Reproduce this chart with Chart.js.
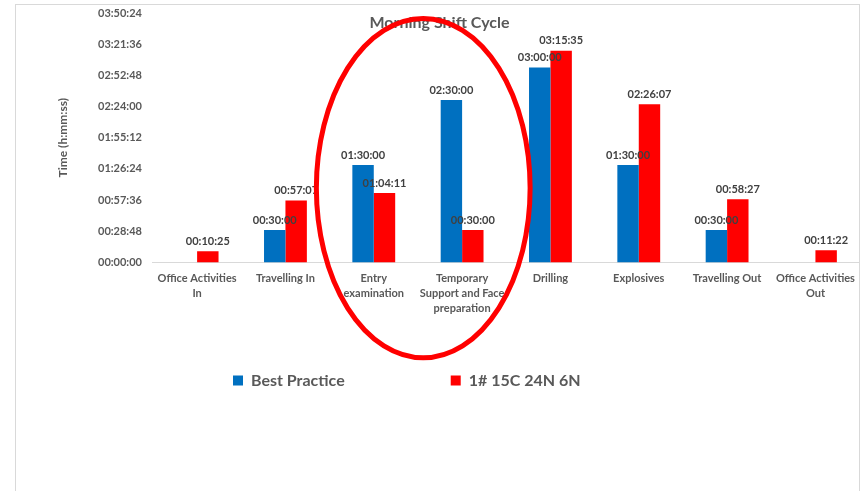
<!DOCTYPE html>
<html><head><meta charset="utf-8">
<script src="https://cdn.jsdelivr.net/npm/chart.js@4.4.1/dist/chart.umd.min.js"></script>
<style>
html,body{margin:0;padding:0;background:#fff;overflow:hidden;}
#frame{position:absolute;left:15px;top:4px;width:845px;height:530px;border:1.5px solid #d9d9d9;box-sizing:border-box;}
#wrap{position:absolute;left:0;top:0;width:864px;height:491px;}
</style></head><body>
<div id="frame"></div>
<div id="wrap"><canvas id="c" width="864" height="491"></canvas></div>
<script>
// ---- data ----
const categories = [
  ['Office Activities', 'In'],
  'Travelling In',
  ['Entry', 'examination'],
  ['Temporary', 'Support and Face', 'preparation'],
  'Drilling',
  'Explosives',
  'Travelling Out',
  ['Office Activities', 'Out']
];
const seriesNames = ['Best Practice', '1# 15C 24N 6N'];
// durations in seconds
const bestPractice = [null, 1800, 5400, 9000, 10800, 5400, 1800, null];
const shiftActual  = [625, 3427, 3851, 1800, 11735, 8767, 3507, 682];
const yMin = 0;
const yMax = 13824;   // 03:50:24
const yStep = 1728;   // 00:28:48
const highlighted = [2, 3]; // categories circled

const seriesColors = ['#0070C0', '#FF0000'];
const textGrey = '#595959';
const labelGrey = '#404040';
const FONT = 'Lato';

function fmt(sec) {
  sec = Math.round(sec);
  const h = Math.floor(sec / 3600), m = Math.floor((sec % 3600) / 60), s = sec % 60;
  const p = n => String(n).padStart(2, '0');
  return p(h) + ':' + p(m) + ':' + p(s);
}

const valueLabels = {
  id: 'valueLabels',
  afterDatasetsDraw(chart) {
    const ctx = chart.ctx;
    ctx.save();
    ctx.font = 'bold 11px ' + FONT;
    ctx.fillStyle = labelGrey;
    ctx.textAlign = 'center';
    ctx.textBaseline = 'middle';
    chart.data.datasets.forEach((ds, di) => {
      const meta = chart.getDatasetMeta(di);
      meta.data.forEach((el, i) => {
        const v = ds.data[i];
        if (v === null || v === undefined) return;
        ctx.fillText(fmt(v), el.x, el.y - 10);
      });
    });
    ctx.restore();
  }
};

const highlightEllipse = {
  id: 'highlightEllipse',
  afterDraw(chart) {
    const xs = chart.scales.x, ys = chart.scales.y;
    const a = xs.getPixelForValue(highlighted[0]);
    const b = xs.getPixelForValue(highlighted[1]);
    const step = b - a;
    const cx = (a + b) / 2 + 0.06 * step;
    const rx = 1.21 * step;
    const cy = ys.getPixelForValue(4120);
    const ry = ys.getPixelForValue(0) - ys.getPixelForValue(9400);
    const ctx = chart.ctx;
    ctx.save();
    ctx.beginPath();
    ctx.ellipse(cx, cy, rx, ry, 0, 0, Math.PI * 2);
    ctx.lineWidth = 5;
    ctx.strokeStyle = '#FF0000';
    ctx.stroke();
    ctx.restore();
  }
};

const boxPlacement = {
  id: 'boxPlacement',
  afterLayout(chart) {
    const lg = chart.legend;
    if (lg) {
      const pad = lg.options.labels.padding;
      const w = lg.width, h = lg.height;
      lg.left = 233 - pad; lg.right = lg.left + w;
      lg.top = 380.5 - pad - 8; lg.bottom = lg.top + h;
    }
    const tb = chart.titleBlock;
    if (tb) {
      tb.left += 8; tb.right += 8;
    }
  }
};

new Chart(document.getElementById('c'), {
  type: 'bar',
  data: {
    labels: categories,
    datasets: [
      { label: seriesNames[0], data: bestPractice, backgroundColor: seriesColors[0], borderWidth: 0 },
      { label: seriesNames[1], data: shiftActual, backgroundColor: seriesColors[1], borderWidth: 0 }
    ]
  },
  options: {
    responsive: false,
    animation: false,
    devicePixelRatio: 1,
    layout: { padding: { left: 0, right: 1, top: 0, bottom: 34 } },
    datasets: { bar: { categoryPercentage: 0.485, barPercentage: 1 } },
    plugins: {
      title: {
        display: true,
        text: 'Morning Shift Cycle',
        color: textGrey,
        font: { family: FONT, size: 16, weight: 'bold' },
        padding: { top: 13.4, bottom: -19.6 }
      },
      legend: {
        display: true,
        position: 'bottom',
        align: 'start',
        labels: {
          boxWidth: 10, boxHeight: 10, padding: 106,
          color: textGrey,
          font: { family: FONT, size: 16, weight: 'bold' }
        }
      },
      tooltip: { enabled: false }
    },
    scales: {
      x: {
        grid: { display: false, drawTicks: false },
        border: { display: true, color: '#D9D9D9', width: 1 },
        ticks: {
          color: textGrey, padding: 9, maxRotation: 0, autoSkip: false,
          font: { family: FONT, size: 11, weight: 'bold', lineHeight: 1.35 }
        }
      },
      y: {
        min: yMin, max: yMax,
        grid: { display: false, drawTicks: false },
        border: { display: false },
        ticks: {
          stepSize: yStep, color: textGrey, padding: 11,
          font: { family: FONT, size: 11, weight: 'bold', lineHeight: 0.3 },
          callback: v => fmt(v)
        },
        title: {
          display: true, text: 'Time (h:mm:ss)', color: textGrey,
          font: { family: FONT, size: 12, weight: 'bold' },
          padding: { top: 55.8, bottom: 16.8 }
        }
      }
    }
  },
  plugins: [valueLabels, highlightEllipse, boxPlacement]
});
</script>
</body></html>
